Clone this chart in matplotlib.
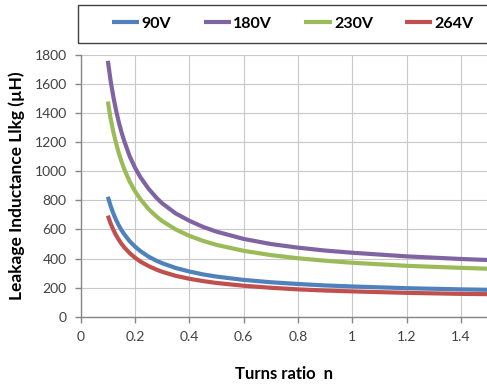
import matplotlib.pyplot as plt
from matplotlib.patches import Rectangle

# values
n = [0.1, 0.11, 0.12, 0.13, 0.14, 0.15, 0.16, 0.18, 0.2, 0.22, 0.25, 0.28,
     0.3, 0.35, 0.4, 0.45, 0.5, 0.6, 0.7, 0.8, 0.9, 1.0, 1.2, 1.4, 1.5]
l_90 = [825, 763, 711, 667, 629, 596, 568, 520, 482, 451, 413, 384,
        368, 335, 311, 291, 276, 253, 237, 225, 215, 208, 196, 188, 185]
l_180 = [1760, 1625, 1515, 1421, 1340, 1271, 1210, 1105, 1025, 959, 880, 816,
         780, 710, 660, 618, 585, 535, 500, 475, 455, 440, 415, 397, 390]
l_230 = [1480, 1365, 1273, 1196, 1127, 1069, 1017, 931, 863, 808, 740, 688,
         658, 600, 556, 522, 494, 453, 424, 402, 385, 371, 350, 336, 330]
l_264 = [695, 642, 599, 561, 530, 502, 478, 438, 406, 379, 348, 323,
         309, 281, 261, 245, 232, 213, 199, 188, 180, 174, 164, 157, 155]

labels = ["90V", "180V", "230V", "264V"]
colors = ["#4F81BD", "#8064A2", "#9BBB59", "#C0504D"]
x_ticks = [0, 0.2, 0.4, 0.6, 0.8, 1, 1.2, 1.4]
x_tick_labels = ["0", "0.2", "0.4", "0.6", "0.8", "1", "1.2", "1.4"]
y_ticks = list(range(0, 1801, 200))

plt.rcParams['font.family'] = ['Lato', 'DejaVu Sans']

fig = plt.figure(figsize=(4.87, 3.86), dpi=100)
ax = fig.add_axes([80.7 / 487, 1 - 316.7 / 386, (488 - 80.7) / 487, (316.7 - 55) / 386])

lines = []
for ys, lab, col in zip([l_90, l_180, l_230, l_264], labels, colors):
    ln, = ax.plot(n, ys, color=col, lw=3.0, label=lab, solid_capstyle='butt')
    lines.append(ln)

ax.set_xlim(0, 1.5)
ax.set_ylim(0, 1800)
ax.set_xticks(x_ticks)
ax.set_xticklabels(x_tick_labels)
ax.set_yticks(y_ticks)
ax.grid(True, color="#C8C8C8", lw=0.8)
ax.set_axisbelow(True)
for s in ["top", "right"]:
    ax.spines[s].set_visible(False)
for s in ["left", "bottom"]:
    ax.spines[s].set_color("#868686")
    ax.spines[s].set_linewidth(1.0)
ax.tick_params(axis='both', colors="#868686", length=4, width=1.0,
               labelsize=10, labelcolor="#404040", pad=6)

ax.set_xlabel("Turns ratio  n", fontsize=12, fontweight='bold', labelpad=17)
ax.set_ylabel("Leakage Inductance Llkg (\u00b5H)", fontsize=12.5, fontweight='bold', labelpad=7)

# legend frame drawn separately, entries spread inside it
fig.patches.append(Rectangle((78 / 487, 1 - 43 / 386), 420 / 487, 38 / 386,
                             transform=fig.transFigure, fill=False,
                             edgecolor="#404040", lw=1.0))
fig.legend(handles=lines, loc='center', ncol=4, mode='expand',
           bbox_to_anchor=(112 / 487, 1 - 43 / 386, 362 / 487, 38 / 386),
           prop={'weight': 'bold', 'size': 11.5}, handlelength=1.7,
           handletextpad=0.15, frameon=False, borderpad=0,
           borderaxespad=0, columnspacing=1.0)

fig.savefig("out.png", dpi=100)
